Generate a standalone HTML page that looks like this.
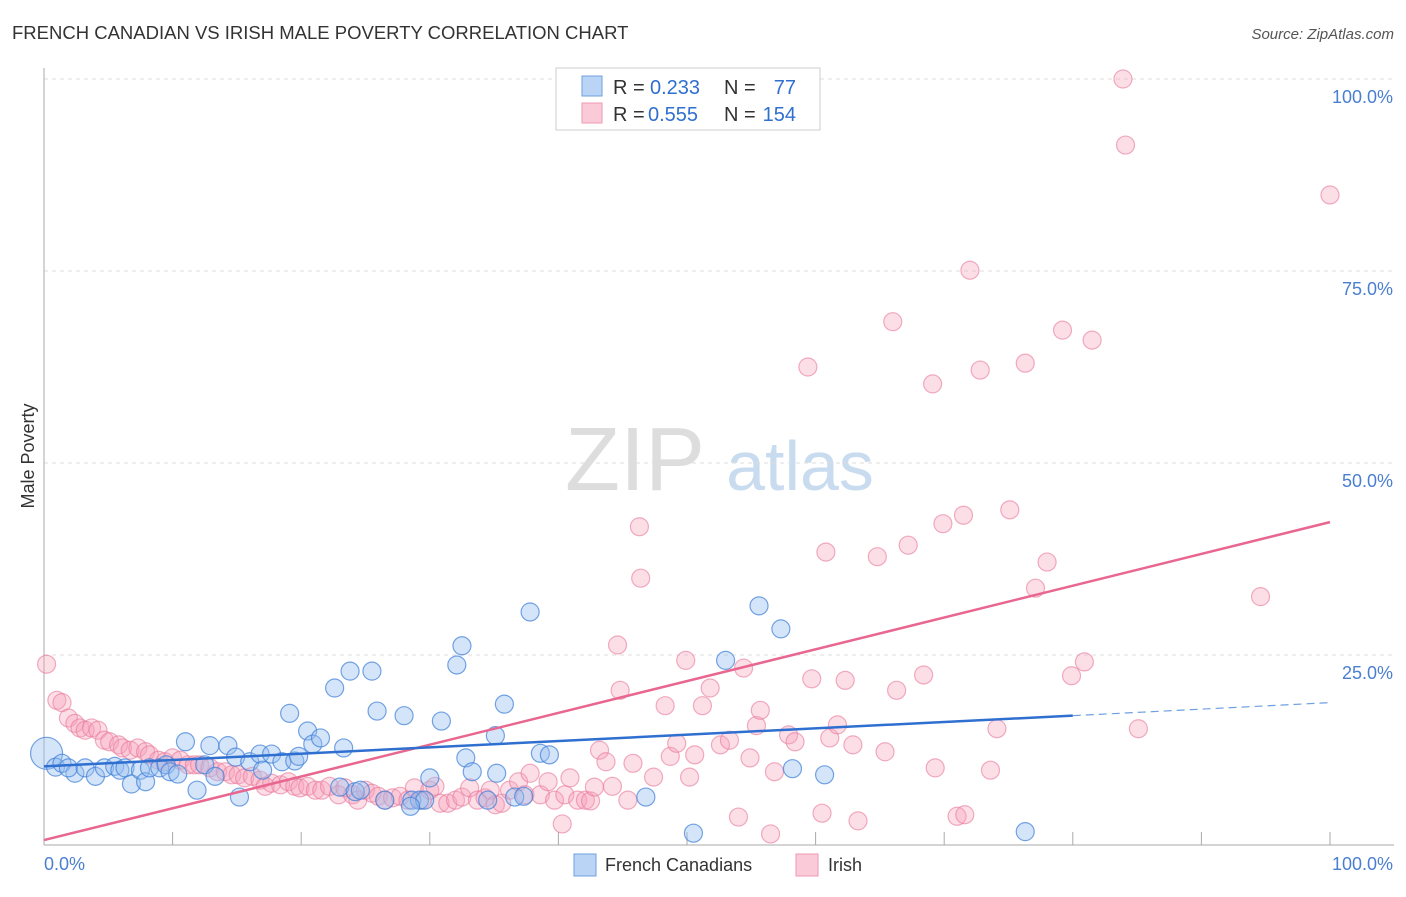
<!DOCTYPE html>
<html><head><meta charset="utf-8">
<style>
body{margin:0;background:#fff;font-family:"Liberation Sans",sans-serif;}
svg text{font-family:"Liberation Sans",sans-serif;}
</style></head>
<body>
<svg id="chart" width="1406" height="892" xmlns="http://www.w3.org/2000/svg">
<text x="12" y="39" font-size="18.5" fill="#333">FRENCH CANADIAN VS IRISH MALE POVERTY CORRELATION CHART</text>
<text x="1394" y="39" font-size="15" fill="#555" font-style="italic" text-anchor="end">Source: ZipAtlas.com</text>
<g>
<text x="635" y="490" font-size="90" fill="#ddd" text-anchor="middle" font-family="Liberation Serif">ZIP</text>
<text x="800" y="490" font-size="70" fill="#c9dcef" text-anchor="middle">atlas</text>
</g>
<g id="grid"></g>
<g id="axes"></g>
<g id="pts"></g>
<g id="lines"></g>
<text transform="translate(34,456) rotate(-90)" font-size="18" fill="#333" text-anchor="middle">Male Poverty</text>
<text x="44" y="870" font-size="18" fill="#4a7fd0">0.0%</text>
<text x="1393" y="870" font-size="18" fill="#4a7fd0" text-anchor="end">100.0%</text>
<g>
<rect x="556" y="68" width="264" height="62" fill="#fff" stroke="#ccc"/>
<rect x="582" y="76" width="20" height="20" fill="#b9d4f5" stroke="#6fa0e0"/>
<rect x="582" y="103" width="20" height="20" fill="#fbcad8" stroke="#ef9ab3"/>
<g font-size="20">
<text x="613" y="94" fill="#333">R =</text><text x="650" y="94" fill="#2f6fd0">0.233</text>
<text x="724" y="94" fill="#333">N =</text><text x="796" y="94" fill="#2f6fd0" text-anchor="end">77</text>
</g>
<g font-size="20">
<text x="613" y="121" fill="#333">R =</text><text x="648" y="121" fill="#2f6fd0">0.555</text>
<text x="724" y="121" fill="#333">N =</text><text x="796" y="121" fill="#2f6fd0" text-anchor="end">154</text>
</g>
</g>
<g>
<rect x="574" y="854" width="22" height="22" fill="#b9d4f5" stroke="#6fa0e0"/>
<text x="605" y="871" font-size="18" fill="#333">French Canadians</text>
<rect x="796" y="854" width="22" height="22" fill="#fbcad8" stroke="#ef9ab3"/>
<text x="828" y="871" font-size="18" fill="#333">Irish</text>
</g>
</svg>
<script>
const yTicks=[25,50,75,100];
const yTickLabels=["25.0%","50.0%","75.0%","100.0%"];
const xTicks=[0,10,20,30,40,50,60,70,80,90,100];
const blueX=[0.2,0.9,1.4,2.4,1.9,3.2,4.0,4.7,5.5,5.9,6.3,6.8,7.5,7.9,8.2,9.0,9.5,9.8,10.4,11.0,11.9,12.5,12.9,13.3,14.3,14.9,15.2,16.0,16.8,17.0,17.7,18.5,19.1,19.5,19.8,20.5,20.9,21.5,22.6,23.3,23.8,23.0,24.2,25.5,25.9,26.5,28.0,28.6,29.2,29.6,30.9,32.1,32.5,32.8,33.3,35.1,35.8,35.2,36.6,37.8,38.6,39.3,46.8,50.5,53.0,55.6,57.3,58.2,60.7,76.3,28.5,37.3,30.0,34.5,24.6];
const blueY=[12.2,10.4,10.9,9.6,10.3,10.3,9.2,10.3,10.5,10.0,10.3,8.2,10.0,8.5,10.3,10.3,10.7,9.8,9.5,13.7,7.4,10.7,13.2,9.2,13.2,11.7,6.5,11.1,12.1,10.0,12.1,11.1,17.4,11.2,11.8,15.1,13.4,14.2,20.7,12.9,22.9,7.8,7.2,22.9,17.7,6.1,17.1,6.1,6.1,6.1,16.4,23.7,26.2,11.6,9.8,14.5,18.6,9.6,6.5,30.6,12.2,12.0,6.5,1.8,24.3,31.4,28.4,10.2,9.4,2.0,5.3,6.6,9.0,6.1,7.4];
const pinkX=[0.2,1.0,1.4,1.9,2.4,2.8,3.2,3.7,4.2,4.7,5.1,5.8,6.1,6.7,7.3,7.9,8.2,8.9,9.4,10.0,10.6,11.2,11.7,12.1,12.9,13.5,14.1,14.6,15.1,15.6,16.2,16.8,17.2,17.7,18.4,19.0,19.5,19.9,20.5,21.1,21.6,22.2,22.9,23.4,24.0,24.4,25.0,25.5,26.0,26.5,27.1,27.7,28.3,28.8,29.4,30.0,30.4,30.8,31.4,32.0,32.5,33.1,33.7,34.3,34.7,35.1,35.6,36.2,36.9,37.4,37.8,38.6,39.2,39.7,40.3,40.5,40.9,41.5,42.1,42.5,42.8,43.2,43.7,44.2,44.6,44.8,45.4,45.8,46.3,46.4,47.4,48.3,48.7,49.2,49.9,50.2,50.6,51.2,51.8,52.6,53.3,54.0,54.4,54.9,55.4,55.7,56.5,56.8,57.9,58.4,59.4,59.7,60.5,60.8,61.1,61.7,62.3,62.9,63.3,64.8,65.4,66.0,66.3,67.2,68.4,69.1,69.3,69.9,71.0,71.5,72.0,72.8,73.6,74.1,75.1,76.3,77.1,78.0,79.2,79.9,80.9,81.5,83.9,84.1,85.1,94.6,100.0,71.6];
const pinkY=[23.8,19.1,18.8,16.8,16.1,15.5,15.2,15.5,15.2,13.9,13.7,13.3,12.9,12.6,12.9,12.4,12.0,11.3,11.1,11.6,11.3,10.7,10.7,10.7,10.3,9.8,9.8,9.4,9.4,9.0,9.2,8.7,7.9,8.3,8.1,8.5,7.9,7.7,7.9,7.4,7.4,7.9,6.8,7.7,6.8,6.1,7.4,7.0,6.6,6.1,6.4,6.6,6.1,7.7,6.1,7.4,7.9,5.7,5.7,6.1,6.5,7.7,6.1,6.4,7.4,5.5,5.7,7.4,8.5,6.8,9.6,6.8,8.5,6.1,3.0,6.8,9.0,6.1,6.1,6.0,7.8,12.6,11.1,7.9,26.3,20.4,6.1,10.9,41.7,35.0,9.1,18.4,11.8,13.5,24.3,9.1,12.0,18.4,20.7,13.3,13.9,3.9,23.3,11.6,15.8,17.8,1.7,9.8,14.6,13.7,62.5,21.9,4.4,38.4,14.2,15.9,21.7,13.3,3.4,37.8,12.4,68.4,20.4,39.3,22.4,60.3,10.3,42.1,4.0,43.2,75.1,62.1,10.0,15.4,43.9,63.0,33.7,37.1,67.3,22.3,24.1,66.0,100.0,91.4,15.4,32.6,84.9,4.2];
const blueLine=[10.5,17.1,18.8];
const pinkLine=[0.9,42.3];

const NS="http://www.w3.org/2000/svg";
const X=v=>44+v*12.86;
const Y=v=>847-v*7.68;
function mk(t,a,p){const e=document.createElementNS(NS,t);for(const k in a)e.setAttribute(k,a[k]);p.appendChild(e);return e;}
const grid=document.getElementById('grid'),axes=document.getElementById('axes'),pts=document.getElementById('pts'),lines=document.getElementById('lines');
yTicks.forEach((v,i)=>{
 const l=mk('line',{x1:44,x2:1394,y1:Y(v),y2:Y(v),stroke:'#ddd','stroke-dasharray':'4,4'},grid);
 
 
 const t=mk('text',{x:1393,y:Y(v)+24,'font-size':18,fill:'#4a7fd0','text-anchor':'end'},axes);
 t.textContent=yTickLabels[i];
 
 
});
const ya=mk('line',{x1:44,x2:44,y1:68,y2:845,stroke:'#aaa'},axes);


const xa=mk('line',{x1:44,x2:1394,y1:845,y2:845,stroke:'#aaa'},axes);


xTicks.forEach(v=>{
 const t=mk('line',{x1:X(v),x2:X(v),y1:832,y2:845,stroke:'#aaa'},axes);
 
 
});
pinkX.forEach((v,i)=>{
 const c=mk('circle',{cx:X(v),cy:Y(pinkY[i]),r:9,fill:'rgba(245,160,185,0.35)',stroke:'rgba(232,120,155,0.6)','stroke-width':1.2},pts);
 
 
});
blueX.forEach((v,i)=>{
 const c=mk('circle',{cx:X(v),cy:Y(blueY[i]),r:i===0?16:9,fill:'rgba(150,190,240,0.4)',stroke:'rgba(60,125,215,0.7)','stroke-width':1.2},pts);
 
 
});
const pl=mk('line',{x1:X(0),y1:Y(pinkLine[0]),x2:X(100),y2:Y(pinkLine[1]),stroke:'#e8668f','stroke-width':2.5},lines);


const bl=mk('line',{x1:X(0),y1:Y(blueLine[0]),x2:X(80),y2:Y(blueLine[1]),stroke:'#2f6fd0','stroke-width':2.5},lines);


const bd=mk('line',{x1:X(80),y1:Y(blueLine[1]),x2:X(100),y2:Y(blueLine[2]),stroke:'#6fa0e0','stroke-width':1.2,'stroke-dasharray':'8,5'},lines);


</script>
</body></html>
